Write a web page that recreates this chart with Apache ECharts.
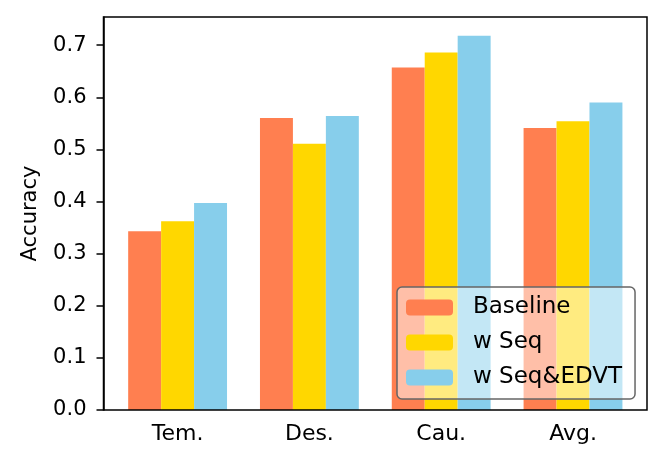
<!DOCTYPE html>
<html>
<head>
<meta charset="utf-8">
<script src="https://cdn.jsdelivr.net/npm/echarts@6/dist/echarts.min.js"></script>
<style>html,body{margin:0;padding:0;background:#fff;}#c{width:664px;height:467px;}</style>
</head>
<body>
<div id="c"></div>
<script>
const categories = ['Tem.', 'Des.', 'Cau.', 'Avg.'];
const baseline = [0.343, 0.560, 0.657, 0.541];
const wSeq = [0.362, 0.511, 0.686, 0.554];
const wSeqEDVT = [0.397, 0.564, 0.718, 0.590];
const seriesNames = ['Baseline', 'w Seq', 'w Seq&EDVT'];
const yTicks = [0.0, 0.1, 0.2, 0.3, 0.4, 0.5, 0.6, 0.7];
const colors = ['#FF7F50', '#FFD700', '#87CEEB'];

const FONT = 'DejaVu Sans';
const chart = echarts.init(document.getElementById('c'));
const yMax = 0.754;
const gridTop = 17, gridBottom = 57;

chart.setOption({
  animation: false,
  textStyle: { fontFamily: FONT },
  grid: [
    { left: 103.5, right: 17, top: gridTop, bottom: gridBottom, show: true,
      borderColor: '#000', borderWidth: 1.5, backgroundColor: 'transparent', z: 3 },
    { left: 111.7, right: 25.1, top: gridTop, bottom: gridBottom }
  ],
  xAxis: [
    { gridIndex: 0, type: 'value', min: 0, max: 1, show: false },
    { gridIndex: 1, type: 'category', data: categories,
      axisLine: { show: false },
      axisTick: { alignWithLabel: true, length: 7, lineStyle: { color: '#000', width: 1.5 } },
      axisLabel: { color: '#000', fontSize: 22, fontFamily: FONT, margin: 13 } }
  ],
  yAxis: [
    { gridIndex: 0, type: 'value', min: 0, max: yMax,
      name: 'Accuracy', nameLocation: 'middle', nameGap: 62,
      nameTextStyle: { color: '#000', fontSize: 21, fontFamily: FONT },
      axisLine: { show: true, lineStyle: { color: '#000', width: 1.5 } },
      axisTick: { show: true, length: 7, customValues: yTicks, lineStyle: { color: '#000', width: 1.5 } },
      axisLabel: { color: '#000', fontSize: 21, fontFamily: FONT, margin: 17,
        customValues: yTicks, formatter: v => v.toFixed(1) },
      splitLine: { show: false } },
    { gridIndex: 1, type: 'value', min: 0, max: yMax, show: false, splitLine: { show: false } }
  ],
  legend: {
    orient: 'vertical', left: 397, top: 287,
    padding: [9, 13, 10, 9],
    itemWidth: 47, itemHeight: 16, itemGap: 12,
    backgroundColor: 'rgba(255,255,255,0.5)',
    borderColor: '#666', borderWidth: 1.5, borderRadius: 5,
    textStyle: { color: '#000', fontSize: 23, fontFamily: FONT, lineHeight: 23, padding: [0, 0, 0, 15] },
    data: seriesNames,
    z: 10
  },
  series: [baseline, wSeq, wSeqEDVT].map((d, i) => ({
    name: seriesNames[i], type: 'bar', xAxisIndex: 1, yAxisIndex: 1,
    data: d, barWidth: '25%', barGap: '0%',
    itemStyle: { color: colors[i] }
  }))
});
</script>
</body>
</html>
